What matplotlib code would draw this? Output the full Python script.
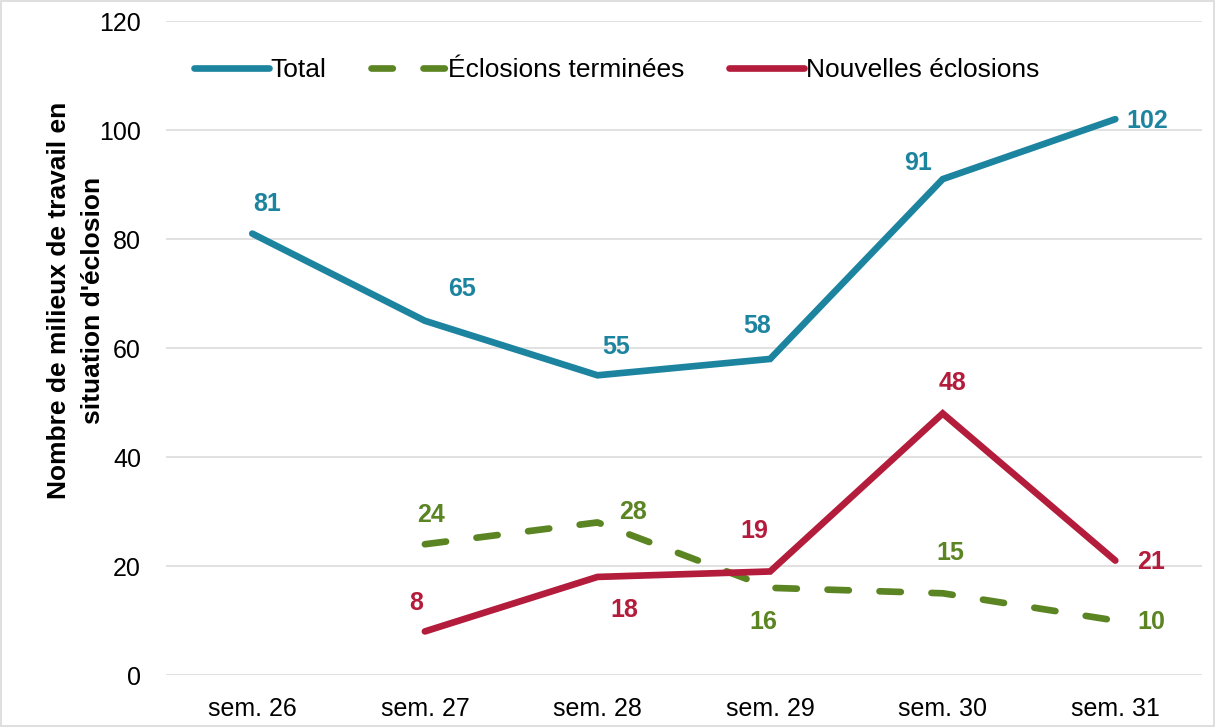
import matplotlib.pyplot as plt
from matplotlib.patches import Rectangle

plt.rcParams['font.family'] = ['Liberation Sans', 'DejaVu Sans']

# data
semaines = ['sem. 26', 'sem. 27', 'sem. 28', 'sem. 29', 'sem. 30', 'sem. 31']
total = [81, 65, 55, 58, 91, 102]
terminees = [None, 24, 28, 16, 15, 10]
nouvelles = [None, 8, 18, 19, 48, 21]
ylabel_lines = ["Nombre de milieux de travail en", "situation d'éclosion"]

c_total = '#1d84a0'
c_term = '#5b8423'
c_nouv = '#b41c3c'

fig = plt.figure(figsize=(12.15, 7.27), dpi=100)
fig.patches.append(Rectangle((0.001, 0.001), 0.998, 0.997, transform=fig.transFigure,
                             fill=False, edgecolor='#d9d9d9', lw=1.2))
ax = fig.add_axes([0.1366, 0.0715, 0.8524, 0.8995])

x = list(range(len(semaines)))
xt = [i for i, v in enumerate(terminees) if v is not None]
yt = [v for v in terminees if v is not None]
xn = [i for i, v in enumerate(nouvelles) if v is not None]
yn = [v for v in nouvelles if v is not None]

lw = 4.8
ax.plot(x, total, color=c_total, lw=lw, solid_capstyle='round', solid_joinstyle='miter', label='Total')
ax.plot(xt, yt, color=c_term, lw=lw, dashes=(3.2, 4.6), dash_capstyle='round', label='Éclosions terminées')
ax.plot(xn, yn, color=c_nouv, lw=lw, solid_capstyle='round', solid_joinstyle='miter', label='Nouvelles éclosions')

# label offsets in pixels (dx, dy)
off_total = [(15, 30), (37, 32), (19, 28), (-13, 33), (-25, 16), (32, -2)]
off_term = [(6, 29), (36, 10), (-7, -34), (8, 40), (36, -1)]
off_nouv = [(-9, 28), (27, -33), (-16, 40), (10, 30), (36, -1)]

def labels(xs, ys, offs, col):
    for xi, yi, (dx, dy) in zip(xs, ys, offs):
        ax.annotate(str(yi), (xi, yi), xytext=(dx * 0.72, dy * 0.72), textcoords='offset points',
                    ha='center', va='center', fontsize=18, fontweight='bold', color=col)

labels(x, total, off_total, c_total)
labels(xt, yt, off_term, c_term)
labels(xn, yn, off_nouv, c_nouv)

ax.set_xlim(-0.5, len(semaines) - 0.5)
ax.set_ylim(0, 120)
ax.set_yticks(range(0, 121, 20))
ax.set_xticks(x)
ax.set_xticklabels(semaines)
ax.tick_params(axis='both', length=0, labelsize=18, colors='black')
ax.tick_params(axis='y', pad=18)
ax.tick_params(axis='x', pad=16)
ax.grid(axis='y', color='#d9d9d9', lw=1.1)
ax.set_axisbelow(True)
for s in ax.spines.values():
    s.set_visible(False)

# y label as two rotated lines (centred on each other)
for xpos, txt in zip([-0.1035, -0.0705], ylabel_lines):
    ax.text(xpos, 0.573, txt, transform=ax.transAxes, rotation=90, ha='center', va='center',
            fontsize=19, fontweight='bold')

leg = ax.legend(loc='center', bbox_to_anchor=(0.435, 0.925), ncol=3, frameon=False,
                fontsize=19, handlelength=2.85, handletextpad=0.05, columnspacing=1.7)

fig.savefig('out.png', dpi=100)
